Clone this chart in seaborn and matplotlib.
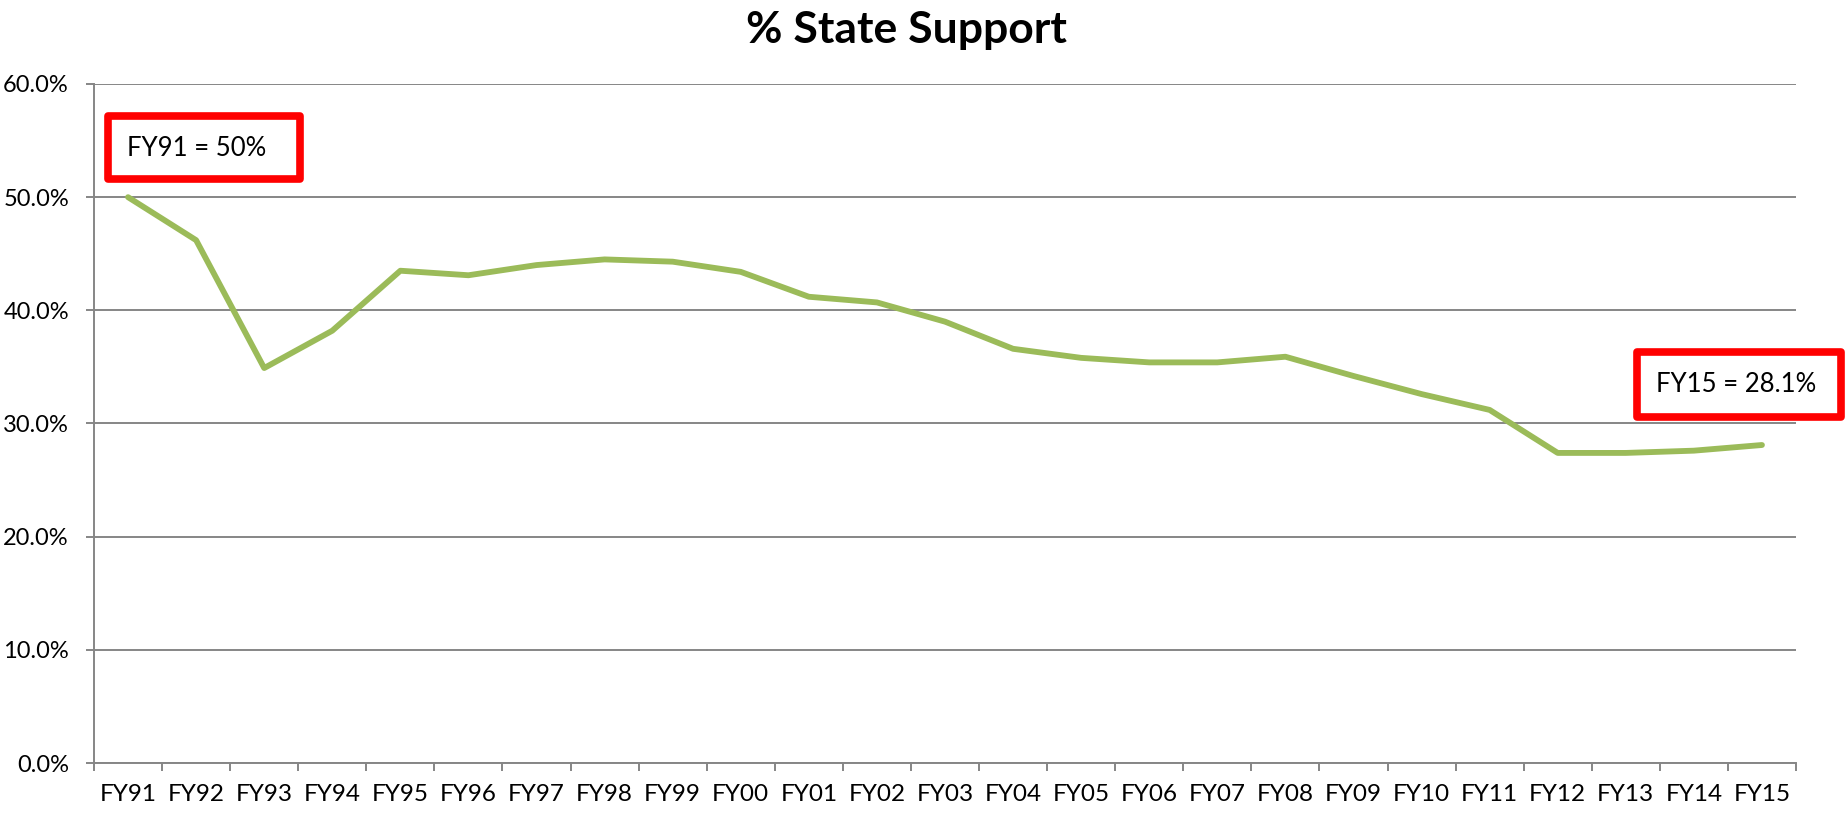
import matplotlib
matplotlib.use("Agg")
import matplotlib.pyplot as plt
import matplotlib.patches as patches
from matplotlib.ticker import FixedLocator, PercentFormatter
import seaborn as sns
import pandas as pd

# fiscal years and share of state support (%)
years = ['FY91', 'FY92', 'FY93', 'FY94', 'FY95', 'FY96', 'FY97', 'FY98', 'FY99',
         'FY00', 'FY01', 'FY02', 'FY03', 'FY04', 'FY05', 'FY06', 'FY07', 'FY08',
         'FY09', 'FY10', 'FY11', 'FY12', 'FY13', 'FY14', 'FY15']
support = [50.0, 46.2, 34.9, 38.2, 43.5, 43.1, 44.0, 44.5, 44.3,
           43.4, 41.2, 40.7, 39.0, 36.6, 35.8, 35.4, 35.4, 35.9,
           34.2, 32.6, 31.2, 27.4, 27.4, 27.6, 28.1]
y_ticks = [0, 10, 20, 30, 40, 50, 60]
notes = ['FY91 = 50%', 'FY15 = 28.1%']

df = pd.DataFrame({'Year': years, 'Support': support})

sns.set_theme(style='white')
plt.rcParams['font.family'] = ['Lato', 'DejaVu Sans']

grid_col = '#868686'

fig = plt.figure(figsize=(18.45, 8.13), dpi=100)
ax = fig.add_axes([94 / 1845, 1 - 763 / 813, (1796 - 94) / 1845, (763 - 84) / 813])

sns.lineplot(data=df, x='Year', y='Support', ax=ax, color='#9BBB59',
             linewidth=4.2, sort=False, solid_capstyle='round', solid_joinstyle='round')

n = len(years)
ax.set_xlim(-0.5, n - 0.5)
ax.set_ylim(0, 60)

# gridlines / spines
ax.set_yticks(y_ticks)
ax.yaxis.set_major_formatter(PercentFormatter(decimals=1))
ax.grid(axis='y', color=grid_col, linewidth=1.4)
ax.grid(axis='x', visible=False)
for s in ['top', 'right']:
    ax.spines[s].set_visible(False)
for s in ['left', 'bottom']:
    ax.spines[s].set_color(grid_col)
    ax.spines[s].set_linewidth(1.4)

# category labels at centers, tick marks at bin edges
ax.set_xticks(range(n))
ax.set_xticklabels(years)
ax.xaxis.set_minor_locator(FixedLocator([i - 0.5 for i in range(n + 1)]))
ax.tick_params(axis='x', which='major', length=0, pad=15, labelsize=17.5, colors='black')
ax.tick_params(axis='x', which='minor', length=6, width=1.4, color=grid_col, direction='out', bottom=True)
ax.tick_params(axis='y', which='major', length=6, width=1.4, color=grid_col, direction='out',
               pad=12, labelsize=17, labelcolor='black', left=True)
ax.set_xlabel('')
ax.set_ylabel('')

fig.text(906 / 1845, 1 - 43 / 813, '% State Support', ha='center', va='baseline',
         fontsize=32, fontweight='bold', color='black')

# red callout boxes
boxes = [(107.5, 116.5, 192, 63, 127), (1636.5, 352.5, 204, 64, 1656)]
for (x0, y0, w, h, tx), label in zip(boxes, notes):
    rect = patches.Rectangle((x0 / 1845, 1 - (y0 + h) / 813), w / 1845, h / 813,
                             transform=fig.transFigure, facecolor='white',
                             edgecolor='#FF0000', linewidth=5.5, joinstyle='round', zorder=5)
    fig.add_artist(rect)
    fig.text(tx / 1845, 1 - (y0 + h / 2) / 813, label, ha='left', va='center',
             fontsize=18.5, color='black', zorder=6)

fig.savefig('out.png', dpi=100, facecolor='white')
